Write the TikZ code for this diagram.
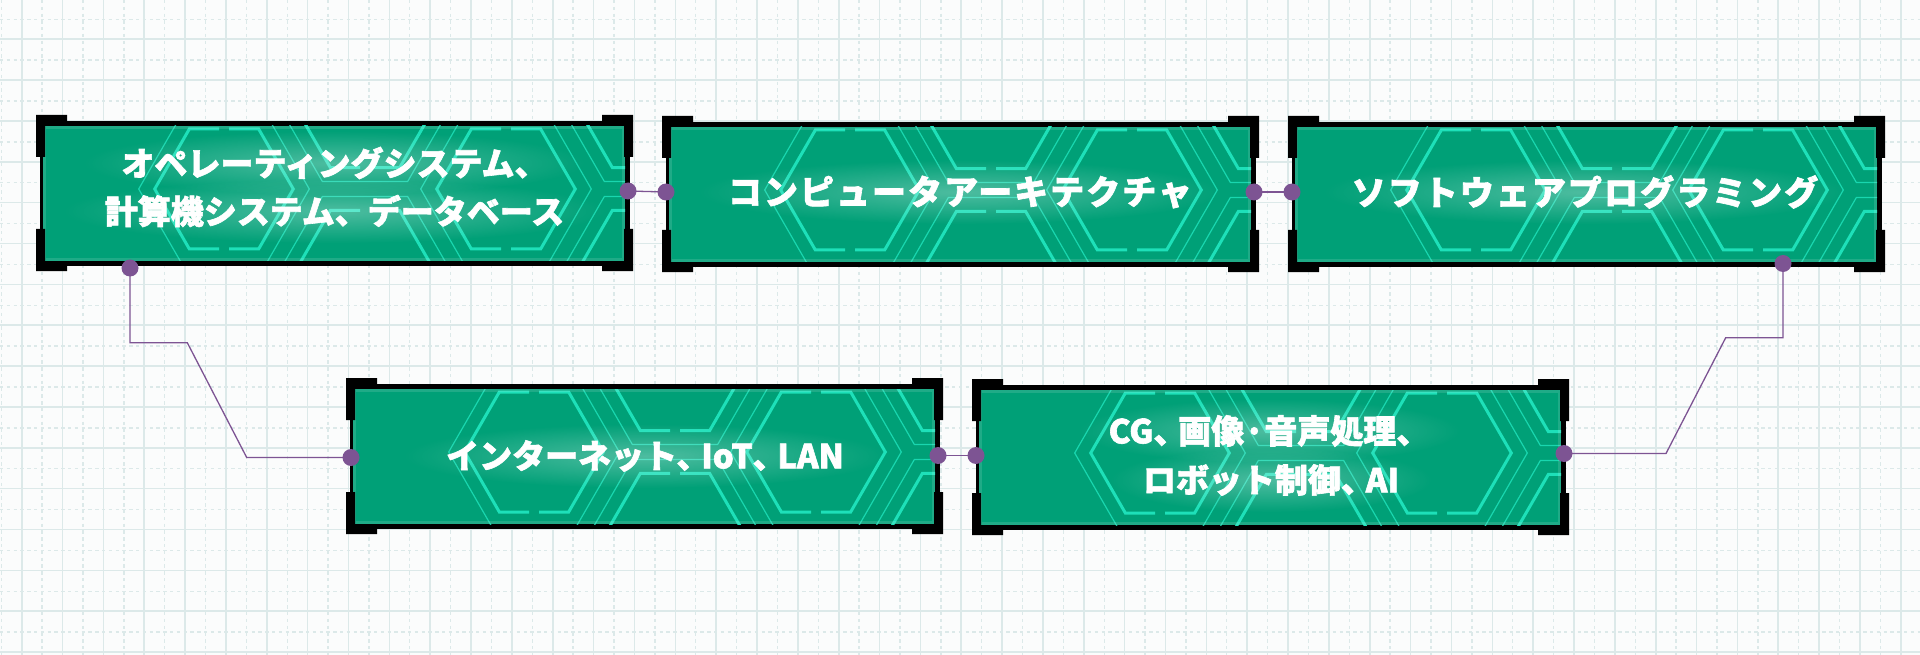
\documentclass[tikz,border=0pt]{standalone}
\usepackage{fontspec}
\newfontfamily\jpf{Noto Sans CJK JP}[BoldFeatures={FakeBold=1.8}]
\newfontfamily\jpw{Noto Sans CJK JP}[LetterSpace=6,BoldFeatures={FakeBold=1.8}]
\usetikzlibrary{calc,fadings}
\tikzfading[name=glowfade, inner color=transparent!0, outer color=transparent!100]
\newcommand\tten{、\kern-0.25em}
\definecolor{bgc}{HTML}{FBFCFC}
\definecolor{gridc}{HTML}{DCE9E9}
\definecolor{boxg}{HTML}{00A077}
\definecolor{hexc}{HTML}{1EE0B9}
\definecolor{dotc}{HTML}{7D5493}
\tikzset{
  frame/.style={fill=black, draw=none, minimum width=590pt, minimum height=145pt, inner sep=0pt, outer sep=0pt},
  hexthick/.style={draw=hexc, line width=3pt, line join=miter},
  hexthin/.style={draw=hexc, line width=1.2pt, opacity=0.85},
  conn/.style={draw=dotc, line width=1.3pt},
  dot/.style={fill=dotc},
  txt/.style={text=white, font=\jpf\bfseries\fontsize{33}{40}\selectfont, inner sep=0pt},
  txtw/.style={text=white, font=\jpw\bfseries\fontsize{34}{40}\selectfont, inner sep=0pt},
  glow/.style={fill=white, fill opacity=0.3, path fading=glowfade},
  bracket/.style={fill=black},
  gridsolid/.style={draw=gridc, line width=1.6pt},
  griddash/.style={draw=gridc, line width=1.4pt, dash pattern=on 3.3pt off 3.5pt},
}
\newcommand\hexcell[2]{%
  \draw[hexthick] (#1,#2) ++(5,-60) -- ++(29.65,0) -- ++(34.65,60) -- ++(-34.65,60) -- ++(-29.65,0);
  \draw[hexthick] (#1,#2) ++(-5,-60) -- ++(-29.65,0) -- ++(-34.65,60) -- ++(34.65,60) -- ++(29.65,0);
  \draw[hexthin] (#1,#2) ++(85.3,0) -- ++(-42.65,-73.9) -- ++(-85.3,0) -- ++(-42.65,73.9) -- ++(42.65,73.9) -- ++(85.3,0) -- cycle;
}
\newcommand\techbox[3]{%
\begin{scope}[shift={(#2,#3)}]
  \node[frame] (#1) at (299,78.5) {};
  \fill[boxg] (6.5,11) rectangle (589,146);
  \begin{scope}
    \clip (6.5,11) rectangle (589,146);
    \hexcell{188}{74}\hexcell{470}{74}
    \hexcell{329}{-7.4}\hexcell{329}{155.4}
    \hexcell{611}{-7.4}\hexcell{611}{155.4}
    \draw[white, opacity=0.12, line width=3pt] (8,12.5) rectangle (587.5,144.5);
  \end{scope}
  \fill[bracket] (0,0) -- (31,0) -- (31,9) -- (9,9) -- (9,42) -- (0,42) -- cycle;
  \fill[bracket] (597,0) -- (566,0) -- (566,9) -- (588,9) -- (588,42) -- (597,42) -- cycle;
  \fill[bracket] (0,156) -- (31,156) -- (31,147) -- (9,147) -- (9,114) -- (0,114) -- cycle;
  \fill[bracket] (597,156) -- (566,156) -- (566,147) -- (588,147) -- (588,114) -- (597,114) -- cycle;
\end{scope}}
% glow ellipse behind a text line: name, style, position, text, half width
\newcommand\glowtext[5]{%
  \fill[glow] (#3) ellipse ({#5} and 32);
  \node[#2] (#1) at (#3) {#4};
}
\begin{document}
\begin{tikzpicture}[x=1pt,y=-1pt]
\useasboundingbox (0,0) rectangle (1920,655);
\fill[bgc] (0,0) rectangle (1920,655);
% grid
\foreach \i in {0,...,46} \draw[gridsolid] ({21.7+40.85*\i},0) -- ++(0,655);
\foreach \i in {-1,...,46} \draw[griddash] ({42.1+40.85*\i},0) -- ++(0,655);
\foreach \i in {0,...,15} \draw[gridsolid] (0,{39.3+40.85*\i}) -- ++(1920,0);
\foreach \i in {0,...,15} \draw[griddash] (0,{19.3+40.85*\i}) -- ++(1920,0);
% boxes
\techbox{b1}{36}{115}
\techbox{b2}{662}{116}
\techbox{b3}{1288}{116}
\techbox{b4}{346}{378}
\techbox{b5}{972}{379}
% texts
\glowtext{t1a}{txt}{334.5,163}{オペレーティングシステム、}{250}
\glowtext{t1b}{txt}{334.5,211}{計算機システム、データベース}{270}
\glowtext{t2}{txtw}{960,192}{コンピュータアーキテクチャ}{260}
\glowtext{t3}{txtw}{1585,192}{ソフトウェアプログラミング}{260}
\glowtext{t4}{txt}{645,456}{インターネット\tten IoT\tten LAN}{240}
\glowtext{t5a}{txt}{1269,431}{CG\tten 画像·音声処理、}{190}
\glowtext{t5b}{txt}{1271,480}{ロボット制御\tten AI}{160}
% connector ends
\coordinate (d1e) at ([xshift=-2pt,yshift=2.5pt]b1.east);
\coordinate (d2w) at ([yshift=2.5pt]b2.west);
\coordinate (d2e) at ([xshift=-2pt,yshift=2.5pt]b2.east);
\coordinate (d3w) at ([yshift=2.5pt]b3.west);
\coordinate (d4w) at ([xshift=1pt,yshift=-1pt]b4.west);
\coordinate (d4e) at ([xshift=-2pt,yshift=1pt]b4.east);
\coordinate (d5w) at ([yshift=2pt]b5.west);
\coordinate (d5e) at ([xshift=-2pt,yshift=4pt]b5.east);
\coordinate (d1s) at ($(b1.south west)+(90,2)$);
\coordinate (d3s) at ($(b3.south west)+(491,-3.5)$);
% connectors
\draw[conn] (d1e) -- (d2w);
\draw[conn] (d2e) -- (d3w);
\draw[conn] (d4e) -- (d5w);
\draw[conn] (d1s) -- (d1s |- 0,342.7) -- (187.3,342.7) -- (246.7,0 |- d4w) -- (d4w);
\draw[conn] (d3s) -- (d3s |- 0,337.7) -- (1725.7,337.7) -- (1666,0 |- d5e) -- (d5e);
\foreach \d in {d1e,d2w,d2e,d3w,d1s,d3s,d4w,d4e,d5w,d5e} \fill[dot] (\d) circle (8.5pt);
\end{tikzpicture}
\end{document}
